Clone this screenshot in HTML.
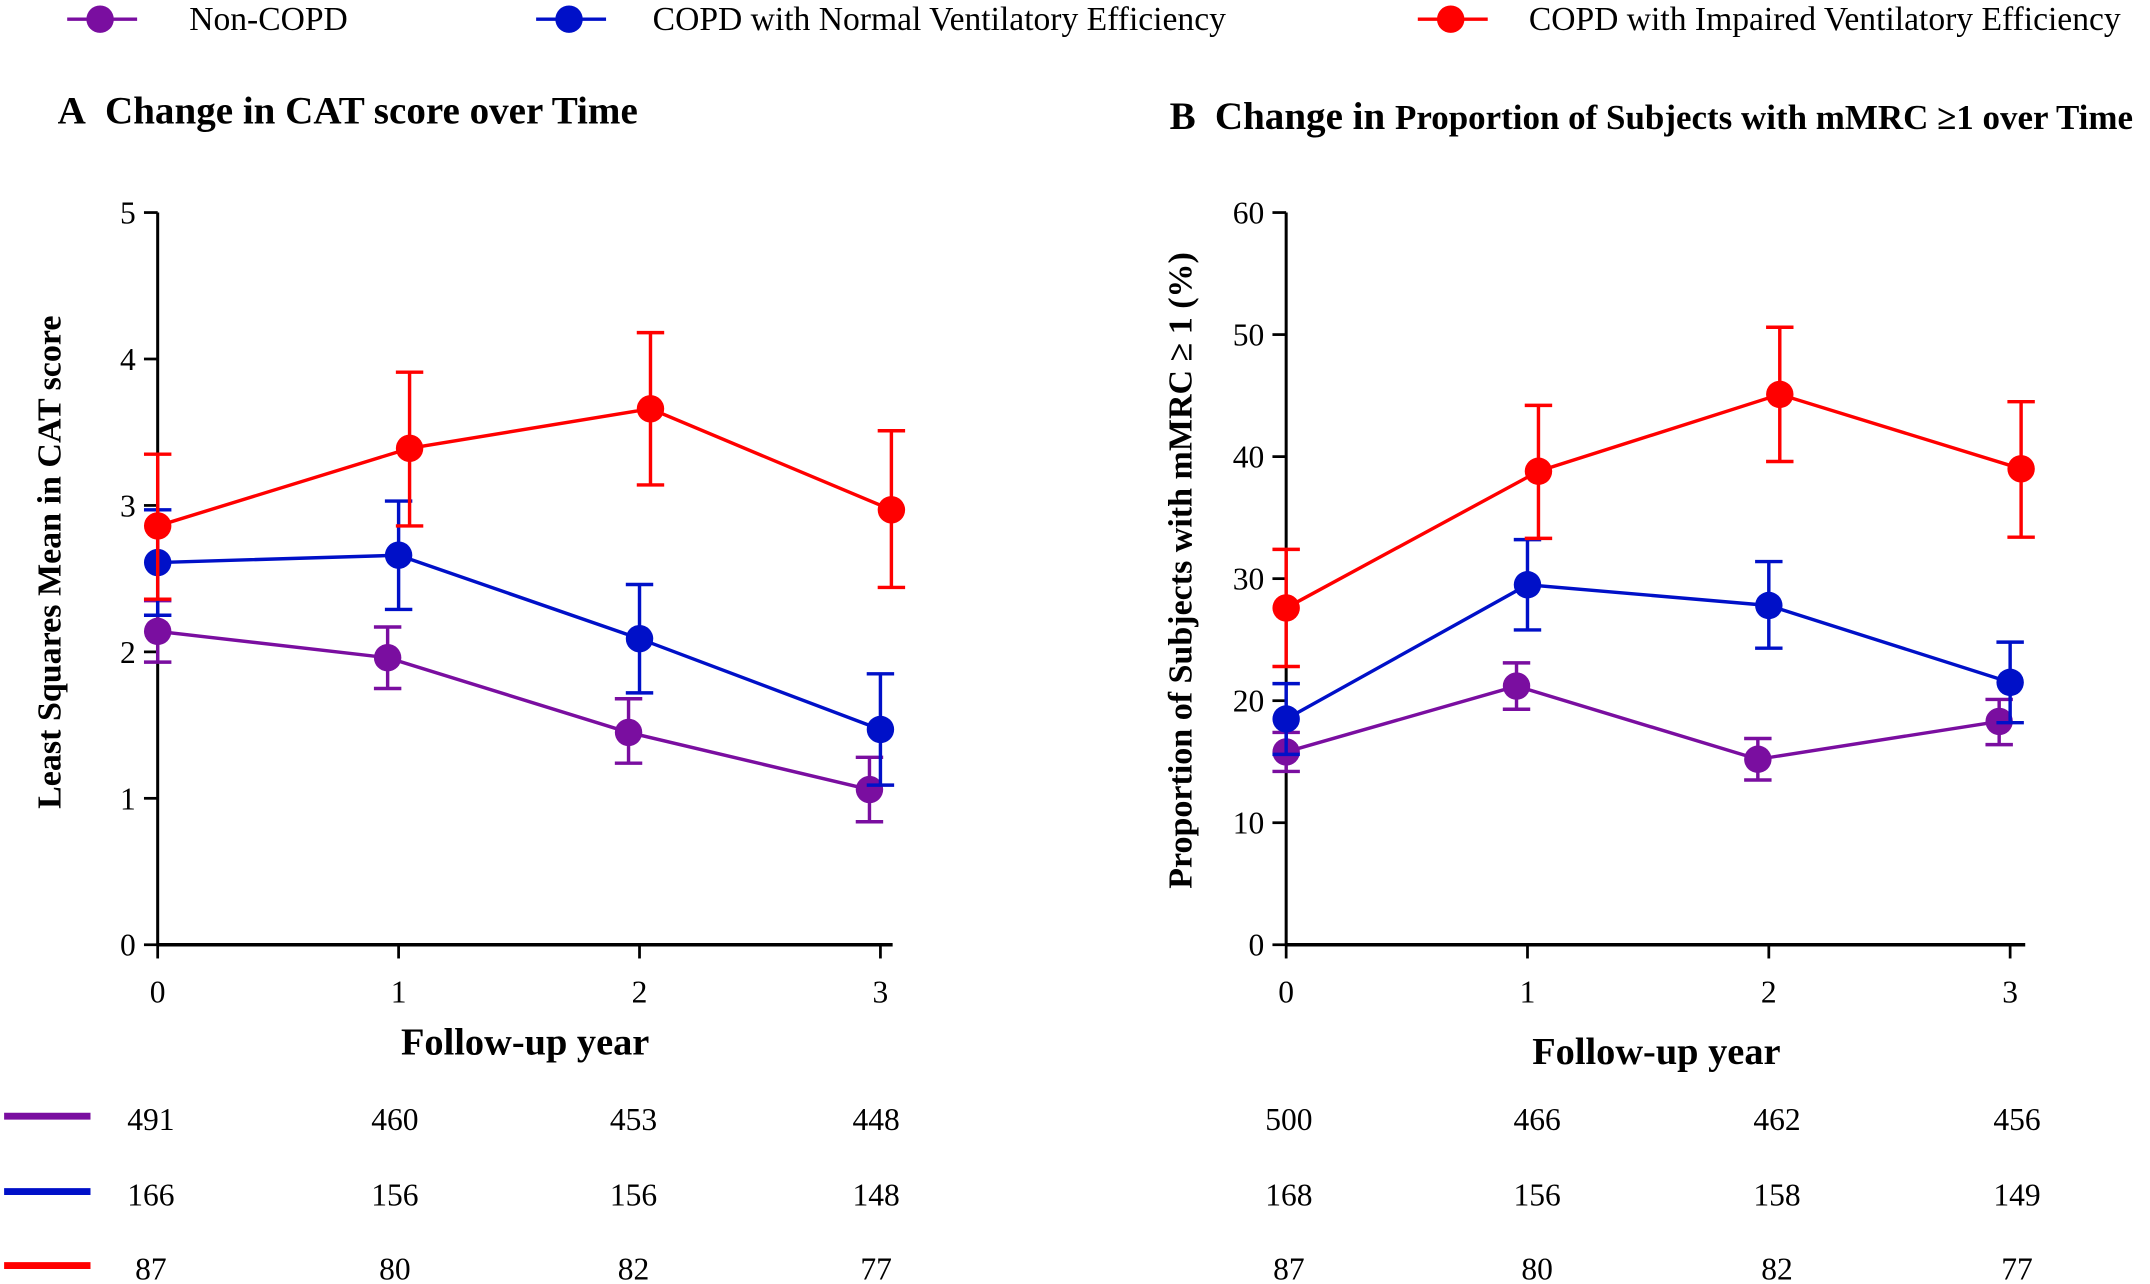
<!DOCTYPE html>
<html><head><meta charset="utf-8">
<style>
html,body{margin:0;padding:0;background:#fff;}
svg{display:block;font-family:"Liberation Serif",serif;}
</style></head>
<body>
<svg id="fig" width="2150" height="1284" viewBox="0 0 1568 936.4" xmlns="http://www.w3.org/2000/svg">
<g id="legend"></g>
<text x="42" y="90" font-size="28.5" font-weight="bold">A<tspan dx="14">Change in CAT score over Time</tspan></text>
<text x="853" y="94" font-size="28.5" font-weight="bold">B<tspan dx="14">Change in </tspan><tspan font-size="25.5">Proportion of Subjects with mMRC ≥1 over Time</tspan></text>
<g id="chartA"></g>
<g id="chartB"></g>
<g id="tables"></g>
</svg>
<script>
const categories = [0, 1, 2, 3];
const seriesNames = ["Non-COPD", "COPD with Normal Ventilatory Efficiency", "COPD with Impaired Ventilatory Efficiency"];
const seriesColors = ["#7a0ea0", "#0010c8", "#ff0000"];
// Panel A: CAT score
const aNonCopd = [2.14, 1.96, 1.45, 1.06];
const aNonCopdLo = [1.93, 1.75, 1.24, 0.84];
const aNonCopdHi = [2.35, 2.17, 1.68, 1.28];
const aNormal = [2.61, 2.66, 2.09, 1.47];
const aNormalLo = [2.25, 2.29, 1.72, 1.09];
const aNormalHi = [2.97, 3.03, 2.46, 1.85];
const aImpaired = [2.86, 3.39, 3.66, 2.97];
const aImpairedLo = [2.36, 2.86, 3.14, 2.44];
const aImpairedHi = [3.35, 3.91, 4.18, 3.51];
const aTicks = [0, 1, 2, 3, 4, 5];
// Panel B: proportion mMRC >= 1
const bNonCopd = [15.8, 21.2, 15.2, 18.3];
const bNonCopdLo = [14.2, 19.3, 13.5, 16.4];
const bNonCopdHi = [17.4, 23.1, 16.9, 20.1];
const bNormal = [18.5, 29.5, 27.8, 21.5];
const bNormalLo = [15.6, 25.8, 24.3, 18.2];
const bNormalHi = [21.4, 33.2, 31.4, 24.8];
const bImpaired = [27.6, 38.8, 45.1, 39.0];
const bImpairedLo = [22.8, 33.3, 39.6, 33.4];
const bImpairedHi = [32.4, 44.2, 50.6, 44.5];
const bTicks = [0, 10, 20, 30, 40, 50, 60];
// Numbers at risk
const aCounts = [[491, 460, 453, 448], [166, 156, 156, 148], [87, 80, 82, 77]];
const bCounts = [[500, 466, 462, 456], [168, 156, 158, 149], [87, 80, 82, 77]];

const NS = "http://www.w3.org/2000/svg";
function mk(parent, tag, attrs, text) {
  const e = document.createElementNS(NS, tag);
  for (const k in attrs) e.setAttribute(k, attrs[k]);
  if (text !== undefined) e.textContent = text;
  parent.appendChild(e);
  return e;
}

// Legend
const leg = document.getElementById('legend');
const legCx = [73, 415, 1058], legTx = [138, 476, 1115];
seriesNames.forEach((n, i) => {
  const g = mk(leg, 'g', {});
  
  
  mk(g, 'line', {x1: legCx[i] - 24, x2: legCx[i] + 27, y1: 14, y2: 14, stroke: seriesColors[i], 'stroke-width': 2.5});
  mk(g, 'circle', {cx: legCx[i], cy: 14, r: 10, fill: seriesColors[i]});
  mk(g, 'text', {x: legTx[i], y: 22, 'font-size': 24.5}, n);
});

function drawChart(gid, cfg) {
  const g = document.getElementById(gid);
  const xS = c => cfg.x0 + c * cfg.dx;
  const yS = v => cfg.y0 - (v - cfg.vmin) / (cfg.vmax - cfg.vmin) * (cfg.y0 - cfg.yTop);
  const ya = mk(g, 'line', {x1: cfg.x0, x2: cfg.x0, y1: yS(cfg.vmax), y2: cfg.y0, stroke: '#000', 'stroke-width': 2.2});
  
  
  const xa = mk(g, 'line', {x1: cfg.x0, x2: cfg.xEnd, y1: cfg.y0, y2: cfg.y0, stroke: '#000', 'stroke-width': 2.5});
  
  
  cfg.ticks.forEach(t => {
    mk(g, 'line', {x1: cfg.x0 - 10, x2: cfg.x0, y1: yS(t), y2: yS(t), stroke: '#000', 'stroke-width': 2});
    const tl = mk(g, 'text', {x: cfg.x0 - 16, y: yS(t) + 8, 'font-size': 23, 'text-anchor': 'end'}, t);
    
    
  });
  categories.forEach(c => {
    mk(g, 'line', {x1: xS(c), x2: xS(c), y1: cfg.y0, y2: cfg.y0 + 10, stroke: '#000', 'stroke-width': 2});
    const tl = mk(g, 'text', {x: xS(c), y: cfg.y0 + 42, 'font-size': 23, 'text-anchor': 'middle'}, c);
    
    
  });
  const yt = mk(g, 'text', {transform: `translate(${cfg.ytX},${cfg.ytY}) rotate(-90)`, 'font-size': 24.8, 'font-weight': 'bold', 'text-anchor': 'middle'}, cfg.yTitle);
  
  
  const xt = mk(g, 'text', {x: cfg.xtX, y: cfg.xtY, 'font-size': 28, 'font-weight': 'bold', 'text-anchor': 'middle'}, 'Follow-up year');
  
  
  const dodge = [-8, 0, 8];
  cfg.series.forEach((s, si) => {
    const sg = mk(g, 'g', {});
    
    
    const px = categories.map(c => xS(c) + (c === 0 ? 0 : dodge[si]));
    const pts = s.v.map((v, i) => px[i] + ',' + yS(v)).join(' ');
    const pl = mk(sg, 'polyline', {points: pts, fill: 'none', stroke: seriesColors[si], 'stroke-width': 2.5});
    
    
    s.v.forEach((v, i) => {
      const x = px[i];
      const eb = mk(sg, 'path', {d: `M${x},${yS(s.lo[i])}V${yS(s.hi[i])}M${x-10},${yS(s.lo[i])}H${x+10}M${x-10},${yS(s.hi[i])}H${x+10}`, stroke: seriesColors[si], 'stroke-width': 2.5, fill: 'none'});
      
      
      const pt = mk(sg, 'circle', {cx: x, cy: yS(v), r: 10, fill: seriesColors[si]});
      
      
    });
  });
}

drawChart('chartA', {x0: 115, dx: 175.7, xEnd: 651, y0: 689, yTop: 155, vmin: 0, vmax: 5, ticks: aTicks,
  yTitle: 'Least Squares Mean in CAT score', ytX: 44, ytY: 410, xtX: 383, xtY: 769,
  series: [{v: aNonCopd, lo: aNonCopdLo, hi: aNonCopdHi}, {v: aNormal, lo: aNormalLo, hi: aNormalHi}, {v: aImpaired, lo: aImpairedLo, hi: aImpairedHi}]});
drawChart('chartB', {x0: 938, dx: 176, xEnd: 1477, y0: 689, yTop: 155, vmin: 0, vmax: 60, ticks: bTicks,
  yTitle: 'Proportion of Subjects with mMRC ≥ 1 (%)', ytX: 869, ytY: 416, xtX: 1208, xtY: 776,
  series: [{v: bNonCopd, lo: bNonCopdLo, hi: bNonCopdHi}, {v: bNormal, lo: bNormalLo, hi: bNormalHi}, {v: bImpaired, lo: bImpairedLo, hi: bImpairedHi}]});

// Tables
const tb = document.getElementById('tables');
const rowY = [816, 871, 925];
const aX = [110, 288, 462, 639], bX = [940, 1121, 1296, 1471];
rowY.forEach((y, r) => {
  const ln = mk(tb, 'line', {x1: 3, x2: 66, y1: y - 2, y2: y - 2, stroke: seriesColors[r], 'stroke-width': 5});
  
  
  aCounts[r].forEach((n, i) => {
    const t = mk(tb, 'text', {x: aX[i], y: y + 8, 'font-size': 23, 'text-anchor': 'middle'}, n);
    
    
  });
  bCounts[r].forEach((n, i) => {
    const t = mk(tb, 'text', {x: bX[i], y: y + 8, 'font-size': 23, 'text-anchor': 'middle'}, n);
    
    
  });
});
</script>
</body></html>
